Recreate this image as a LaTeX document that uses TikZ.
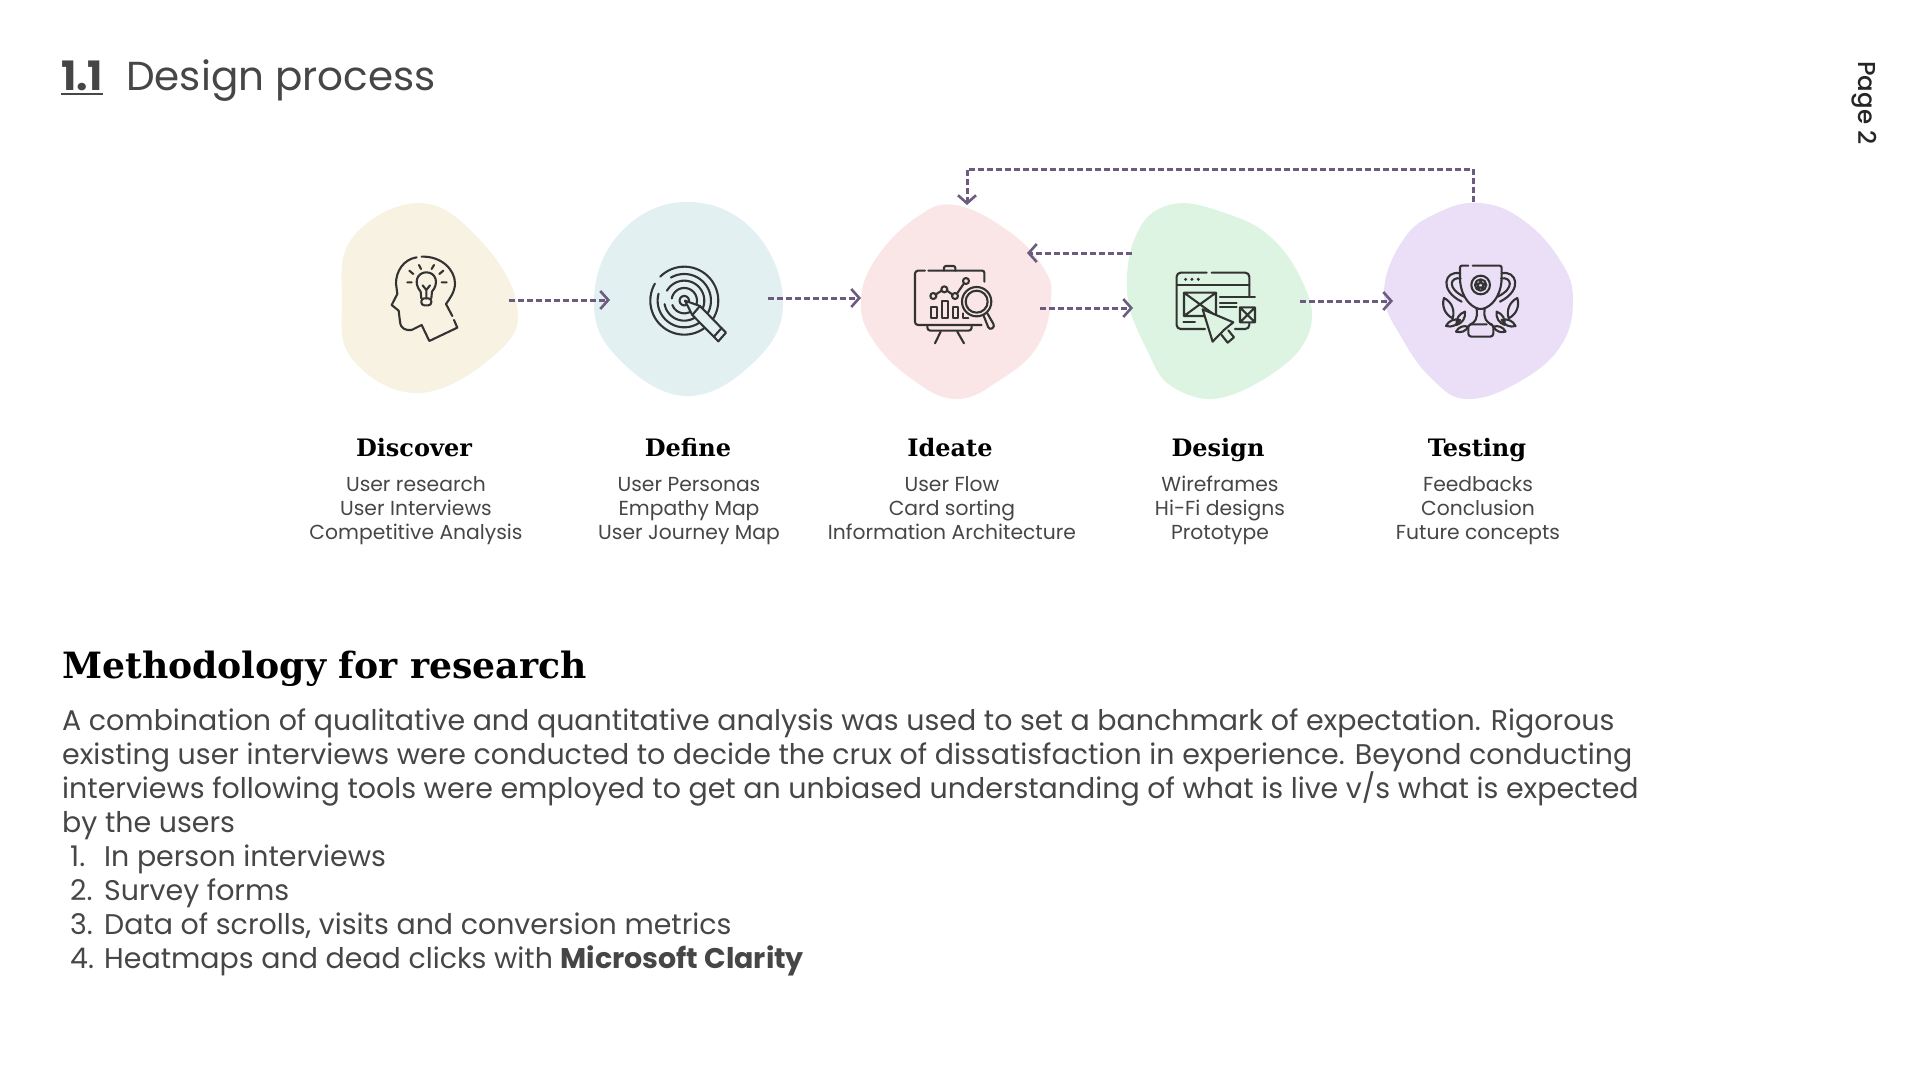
\documentclass[tikz,border=0pt]{standalone}
\usepackage{fontspec}
\usepackage{xcolor}
\usetikzlibrary{arrows.meta}
\setmainfont{Poppins}
\newfontfamily\headfont{DejaVu Serif}
\newfontfamily\markfont{Poppins Medium}
\definecolor{inkgrey}{HTML}{464646}
\definecolor{icongrey}{HTML}{333333}
\definecolor{flowpurple}{HTML}{6B5B7E}
\definecolor{blobcream}{HTML}{F7F2E1}
\definecolor{blobblue}{HTML}{E3F0F1}
\definecolor{blobpink}{HTML}{FAE6E6}
\definecolor{blobgreen}{HTML}{DDF4E2}
\definecolor{blobviolet}{HTML}{EADFF6}
\tikzset{
  flow/.style={draw=flowpurple,line width=3pt,dash pattern=on 6pt off 3pt,-{Straight Barb[length=8pt,width=18pt,line width=2.6pt]}},
  iconline/.style={draw=icongrey,line width=2.1pt,line cap=round,line join=round},
  stephead/.style={font=\headfont\fontsize{24}{28}\selectfont\bfseries,text=black,anchor=base,inner sep=0pt},
  steptext/.style={font=\fontsize{20.3}{24}\selectfont,text=inkgrey,anchor=base,align=center,inner sep=0pt},
}
\begin{document}
\begin{tikzpicture}[x=1pt,y=-1pt]
  \useasboundingbox (0,0) rectangle (1920,1080);

  \node [font=\fontsize{40.5}{44}\selectfont\bfseries,text=inkgrey,anchor=base west,inner sep=0pt] (secnum) at (61,90) {1.1};
  \draw [inkgrey,line width=1.2pt] ([yshift=-4pt]secnum.base west) -- ([yshift=-4pt]secnum.base east);
  \node [font=\fontsize{40.5}{44}\selectfont,text=inkgrey,anchor=base west,inner sep=0pt] (sectitle) at (126,90) {Design process};
  \node [font=\markfont\fontsize{24.5}{28}\selectfont,text=black!85,rotate=-90,inner sep=0pt] (pagemark) at (1864,103) {Page 2};

  \fill [blobcream] plot [smooth cycle,tension=.7] coordinates {(420,203) (480,240) (517,305) (497,353) (420,393) (353,360) (342,300) (353,237)};
  \fill [blobblue] plot [smooth cycle,tension=.7] coordinates {(685,202) (753,230) (783,303) (753,363) (685,396) (617,357) (594,300) (620,233)};
  \fill [blobpink] plot [smooth cycle,tension=.7] coordinates {(955,205) (1007,230) (1043,267) (1051,300) (1037,347) (1000,380) (957,399) (913,380) (873,340) (861,300) (877,257) (917,217)};
  \fill [blobgreen] plot [smooth cycle,tension=.6] coordinates {(1183,203) (1222,212) (1262,230) (1293,264) (1312,313) (1297,353) (1250,387) (1207,399) (1167,383) (1147,350) (1130,310) (1127,275) (1134,240) (1152,213)};
  \fill [blobviolet] plot [smooth cycle,tension=.7] coordinates {(1480,203) (1523,220) (1560,260) (1573,300) (1560,347) (1517,383) (1467,399) (1433,380) (1403,340) (1384,293) (1403,240) (1437,213)};

  \coordinate (discoverout) at (509,300);
  \coordinate (definein) at (610,300);
  \coordinate (defineout) at (768,298);
  \coordinate (ideatein) at (861,298);
  \coordinate (ideateout) at (1040,308);
  \coordinate (designin) at (1133,308);
  \coordinate (designback) at (1132,253);
  \coordinate (ideateback) at (1027,253);
  \coordinate (designout) at (1300,301);
  \coordinate (testingin) at (1393,301);
  \coordinate (testingtop) at (1473,202);
  \coordinate (looptopright) at (1473,169);
  \coordinate (looptopleft) at (967,169);
  \coordinate (ideatetop) at (967,205);
  \draw [flow] (discoverout) -- (definein);
  \draw [flow] (defineout) -- (ideatein);
  \draw [flow] (ideateout) -- (designin);
  \draw [flow] (designback) -- (ideateback);
  \draw [flow] (designout) -- (testingin);
  \draw [flow] (testingtop) -- (looptopright) -- (looptopleft) -- (ideatetop);

  \begin{scope}[shift={(320,150)},scale=.3333]
    \draw [iconline] (290,322) .. controls (250,328) and (228,365) .. (228,400) -- (232,432) -- (215,465) -- (236,482) -- (240,515) .. controls (242,538) and (260,542) .. (275,540) -- (305,525) -- (328,573) -- (412,533) -- (402,510);
    \draw [iconline] (305,320) .. controls (365,318) and (405,360) .. (405,400) .. controls (405,425) and (390,445) .. (378,462) -- (397,498);
    \draw [iconline] (304,445) -- (302,425) .. controls (280,400) and (290,367) .. (319,367) .. controls (348,367) and (358,400) .. (336,425) -- (334,445);
    \draw [iconline,rounded corners=3pt] (304,445) -- (304,466) -- (334,466) -- (334,445) -- cycle;
    \draw [iconline] (308,406) -- (319,420) -- (330,406) (319,420) -- (319,445);
    \draw [iconline] (262,397) -- (275,397) (365,397) -- (380,397) (268,362) -- (280,372) (297,345) -- (303,357) (342,345) -- (335,357) (370,362) -- (358,372);
  \end{scope}

  \begin{scope}[shift={(320,150)},scale=.3333]
    \foreach \ringr/\ringa/\ringb in {102/-135/210,80/-120/195,60/-150/170,38/-170/160,14/0/360}
      \draw [iconline] plot [domain=\ringa:\ringb,samples=60] ({1093+\ringr*cos(\x)},{452+\ringr*sin(\x)});
    \draw [iconline,fill=blobblue] (1095,452) -- (1140,468) -- (1218,548) -- (1195,574) -- (1117,495) -- cycle;
    \draw [iconline] (1182,560) -- (1205,534) (1117,495) -- (1140,468);
  \end{scope}

  \begin{scope}[shift={(840,150)},scale=.3333]
    \draw [iconline,rounded corners=3pt] (255,362) -- (225,362) -- (225,525) -- (425,525);
    \draw [iconline,rounded corners=2pt] (265,362) -- (433,362) -- (433,395);
    \draw [iconline,rounded corners=2pt] (312,362) -- (312,348) -- (346,348) -- (346,362);
    \draw [iconline,rounded corners=3pt] (262,528) -- (262,542) -- (395,542) -- (395,528);
    \draw [iconline] (302,545) -- (285,580) (352,545) -- (372,580);
    \draw [iconline] (286,434) -- (305,422) (321,422) -- (338,434) (351,431) -- (372,400);
    \foreach \dotx/\doty in {280/438,313/418,345/438,378/393}
      \draw [iconline] (\dotx,\doty) circle [radius=9];
    \draw [iconline] (272,472) rectangle (290,505) (305,452) rectangle (323,505) (338,472) rectangle (355,505) (370,490) -- (370,505) -- (385,505);
    \draw [iconline] (410,455) circle [radius=44] (410,455) circle [radius=33];
    \draw [iconline,rounded corners=3pt] (430,495) -- (448,540) -- (465,530) -- (442,490);
  \end{scope}

  \begin{scope}[shift={(840,150)},scale=.3333]
    \draw [iconline,rounded corners=4pt] (1100,368) -- (1010,368) -- (1010,537) -- (1095,537);
    \draw [iconline,rounded corners=4pt] (1115,368) -- (1228,368) -- (1228,440);
    \draw [iconline,rounded corners=4pt] (1185,537) -- (1228,537) -- (1228,520);
    \draw [iconline] (1012,405) -- (1228,405);
    \foreach \dotx in {1037,1056,1075}
      \fill [icongrey] (\dotx,388) circle [radius=5];
    \draw [iconline] (1032,428) rectangle (1128,498) (1032,428) -- (1128,498) (1128,428) -- (1032,498);
    \draw [iconline] (1140,442) -- (1245,442) (1140,458) -- (1190,458) (1140,472) -- (1190,472) (1030,515) -- (1065,515);
    \draw [iconline] (1200,472) rectangle (1245,517) (1204,476) -- (1241,513) (1241,476) -- (1204,513);
    \draw [iconline,fill=blobgreen] (1088,478) -- (1180,517) -- (1152,540) -- (1118,575) -- cycle;
    \draw [iconline,fill=blobgreen] (1145,555) -- (1163,578) -- (1182,562) -- (1165,541);
  \end{scope}

  \begin{scope}[shift={(1140,150)},scale=.3333]
    \draw [iconline,rounded corners=2pt] (985,347) -- (960,347) -- (960,390) .. controls (965,440) and (990,470) .. (1022,478) .. controls (1055,470) and (1080,440) .. (1085,390) -- (1085,347) -- (998,347);
    \draw [iconline] (1022,405) circle [radius=28] (1022,405) circle [radius=17];
    \draw [iconline] (1022,393) -- (1026,401) -- (1035,401) -- (1029,408) -- (1032,417) -- (1022,412) -- (1012,417) -- (1015,408) -- (1009,401) -- (1018,401) -- cycle;
    \draw [iconline] (960,370) .. controls (915,360) and (895,420) .. (965,455) (962,385) .. controls (930,380) and (920,415) .. (972,440);
    \draw [iconline] (1085,370) .. controls (1130,360) and (1150,420) .. (1080,455) (1083,385) .. controls (1115,380) and (1125,415) .. (1073,440);
    \draw [iconline] (1010,478) .. controls (1014,505) and (1005,518) .. (990,524) (1034,478) .. controls (1030,505) and (1040,518) .. (1056,524);
    \draw [iconline,rounded corners=3pt] (1050,523) -- (1060,523) -- (1060,560) -- (985,560) -- (985,523) -- (1040,523);
    \foreach \leafax/\leafay/\leafbx/\leafby in {912/444/938/505,975/485/950/525,918/528/960/510,948/545/985/530,1132/444/1106/505,1070/485/1094/525,1127/528/1085/510,1097/545/1060/530}
      \draw [iconline] (\leafax,\leafay) to [bend left=40] (\leafbx,\leafby) to [bend left=40] cycle;
  \end{scope}

  \node [stephead] (discoverhead) at (414,456) {Discover};
  \node [stephead] (definehead) at (688,456) {Define};
  \node [stephead] (ideatehead) at (950,456) {Ideate};
  \node [stephead] (designhead) at (1218,456) {Design};
  \node [stephead] (testinghead) at (1477,456) {Testing};
  \node [steptext] (discovertext) at (416,539) {User research\\User Interviews\\Competitive Analysis};
  \node [steptext] (definetext) at (689,539) {User Personas\\Empathy Map\\User Journey Map};
  \node [steptext] (ideatetext) at (952,539) {User Flow\\Card sorting\\Information Architecture};
  \node [steptext] (designtext) at (1220,539) {Wireframes\\Hi-Fi designs\\Prototype};
  \node [steptext] (testingtext) at (1478,539) {Feedbacks\\Conclusion\\Future concepts};

  \node [font=\headfont\fontsize{36.2}{44}\selectfont\bfseries,text=black,anchor=base west,inner sep=0pt] (methodhead) at (62,678) {Methodology for research};
  \node [font={\lineskiplimit=-100pt\fontsize{28.45}{34}\selectfont},text=inkgrey,anchor=base west,align=left,inner sep=0pt] (methodtext) at (62,968) {A combination of qualitative and quantitative analysis was used to set a banchmark of expectation. Rigorous\\
    existing user interviews were conducted to decide the crux of dissatisfaction in experience. Beyond conducting\\
    interviews following tools were employed to get an unbiased understanding of what is live v/s what is expected\\
    by the users\\
    \makebox[42pt][l]{\hspace*{8pt}1.}In person interviews\\
    \makebox[42pt][l]{\hspace*{8pt}2.}Survey forms\\
    \makebox[42pt][l]{\hspace*{8pt}3.}Data of scrolls, visits and conversion metrics\\
    \makebox[42pt][l]{\hspace*{8pt}4.}Heatmaps and dead clicks with \textbf{Microsoft Clarity}};
\end{tikzpicture}
\end{document}
